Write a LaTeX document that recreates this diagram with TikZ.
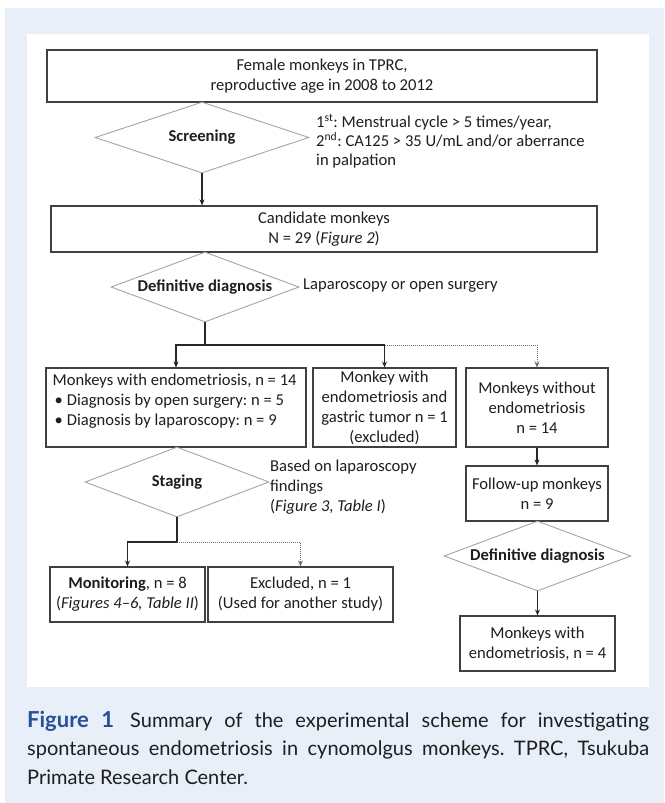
\documentclass[tikz,border=0pt]{standalone}
\usepackage{fontspec}
\setmainfont{Carlito}
\newfontfamily\capfont{Lato}
\usetikzlibrary{shapes.geometric,arrows.meta}
\definecolor{bgblue}{RGB}{232,239,248}
\definecolor{capblue}{RGB}{38,80,152}
\definecolor{boxgray}{RGB}{64,64,64}
\definecolor{diagray}{RGB}{165,165,165}
\definecolor{linecol}{RGB}{40,40,40}
\definecolor{dotcol}{RGB}{110,110,110}
\definecolor{txt}{RGB}{30,30,30}
\newcommand\dgfont{\fontsize{16.6}{20}\selectfont}
\frenchspacing
\begin{document}
\begin{tikzpicture}[x=1pt,y=-1pt,
  box/.style={draw=boxgray, line width=1.1pt, align=center, inner sep=0pt, text=txt, font=\dgfont},
  dia/.style={diamond, draw=diagray, line width=0.9pt, inner sep=0pt},
  dlabel/.style={font=\dgfont\bfseries, text=txt, inner sep=0pt},
  conn/.style={draw=linecol, line width=1.4pt},
  dots/.style={draw=dotcol, line width=1pt, densely dotted},
  arr/.style={-{Stealth[length=6pt,width=5pt]}},
  lbl/.style={align=left, inner sep=0pt, anchor=west, text=txt, font=\dgfont}
]
\useasboundingbox (0,0) rectangle (664,803);
\fill[white] (0,0) rectangle (664,803);
\fill[bgblue] (5,8) rectangle (664,803);
\fill[white] (27,34) rectangle (649,687);

% boxes
\node[box, minimum width=550pt, minimum height=52pt] (top) at (322,76)
  {Female monkeys in TPRC,\\reproductive age in 2008 to 2012};
\node[box, minimum width=546pt, minimum height=46pt] (cand) at (324,229)
  {Candidate monkeys\\N = 29 (\textit{Figure 2})};
\node[box, minimum width=260pt, minimum height=79pt] (b1) at (176,407.5) {};
\node[lbl, anchor=north west, align=left] (b1t) at ([shift={(7,6.5)}]b1.north west)
  {Monkeys with endometriosis, n = 14\\
   \hspace{2pt}\textbullet\hspace{4pt}Diagnosis by open surgery: n = 5\\
   \hspace{2pt}\textbullet\hspace{4pt}Diagnosis by laparoscopy: n = 9};
\node[box, minimum width=143pt, minimum height=79pt] (b2) at (384.5,407.5)
  {Monkey with\\endometriosis and\\gastric tumor n = 1\\(excluded)};
\node[box, minimum width=142pt, minimum height=79pt] (b3) at (537,407.5)
  {Monkeys without\\endometriosis\\n = 14};
\node[box, minimum width=142pt, minimum height=55pt] (fu) at (537,493.5)
  {Follow-up monkeys\\n = 9};
\node[box, minimum width=155pt, minimum height=55pt] (mon) at (127.5,594.5)
  {\textbf{Monitoring}, n = 8\\(\textit{Figures 4\textendash6, Table II})};
\node[box, minimum width=185pt, minimum height=55pt] (exc) at (300.5,594.5)
  {Excluded, n = 1\\(Used for another study)};
\node[box, minimum width=155pt, minimum height=55pt] (fin) at (537.5,643.5)
  {Monkeys with\\endometriosis, n = 4};

% diamonds
\node[dia, minimum width=214pt, minimum height=71pt] (scr) at (202,137.5) {};
\node[dlabel] (scrt) at (scr.center) {Screening};
\node[dia, minimum width=188pt, minimum height=70pt] (dd1) at (205,287) {};
\node[dlabel] (dd1t) at (dd1.center) {Definitive diagnosis};
\node[dia, minimum width=184pt, minimum height=70pt] (stg) at (177,482) {};
\node[dlabel] (stgt) at (stg.center) {Staging};
\node[dia, minimum width=187pt, minimum height=70pt] (dd2) at (537.5,556) {};
\node[dlabel] (dd2t) at (dd2.center) {Definitive diagnosis};

% side labels
\node[lbl, font=\fontsize{16.6}{19}\selectfont] (scrl) at (316,141.5)
  {1\textsuperscript{st}: Menstrual cycle > 5 times/year,\\
   2\textsuperscript{nd}: CA125 > 35 U/mL and/or aberrance\\
   in palpation};
\node[lbl] (dd1l) at (303,286) {Laparoscopy or open surgery};
\node[lbl] (stgl) at (270,487) {Based on laparoscopy\\findings\\(\textit{Figure 3, Table I})};

% connectors
\draw[conn,arr] (scr.south) -- (scr.south |- cand.north);
\coordinate (j1) at (dd1.south |- 0,345);
\draw[conn] (dd1.south) -- (j1);
\draw[conn,arr] (j1) -| (b1.north);
\draw[conn,arr] (j1) -| (b2.north);
\draw[dots,arr] (b2.north |- j1) -| (b3.north);
\coordinate (j2) at (stg.south |- 0,542);
\draw[conn] (stg.south) -- (j2);
\draw[conn,arr] (j2) -| (mon.north);
\draw[dots,arr] (j2) -| (exc.north);
\draw[conn,arr] (b3.south) -- (fu.north);
\draw[conn,arr] (dd2.south) -- (fin.north);

% caption
\node[anchor=base west, text width=622pt, align=justify, inner sep=0pt,
      font=\capfont\fontsize{20}{28.5}\selectfont, text=txt] (cap) at (27,727)
  {{\fontsize{22}{28.5}\selectfont\bfseries\color{capblue}Figure 1}\hspace{0.8em}Summary of the experimental scheme for investigating\linebreak
   spontaneous endometriosis in cynomolgus monkeys. TPRC, Tsukuba\linebreak
   Primate Research Center.};
\end{tikzpicture}
\end{document}
